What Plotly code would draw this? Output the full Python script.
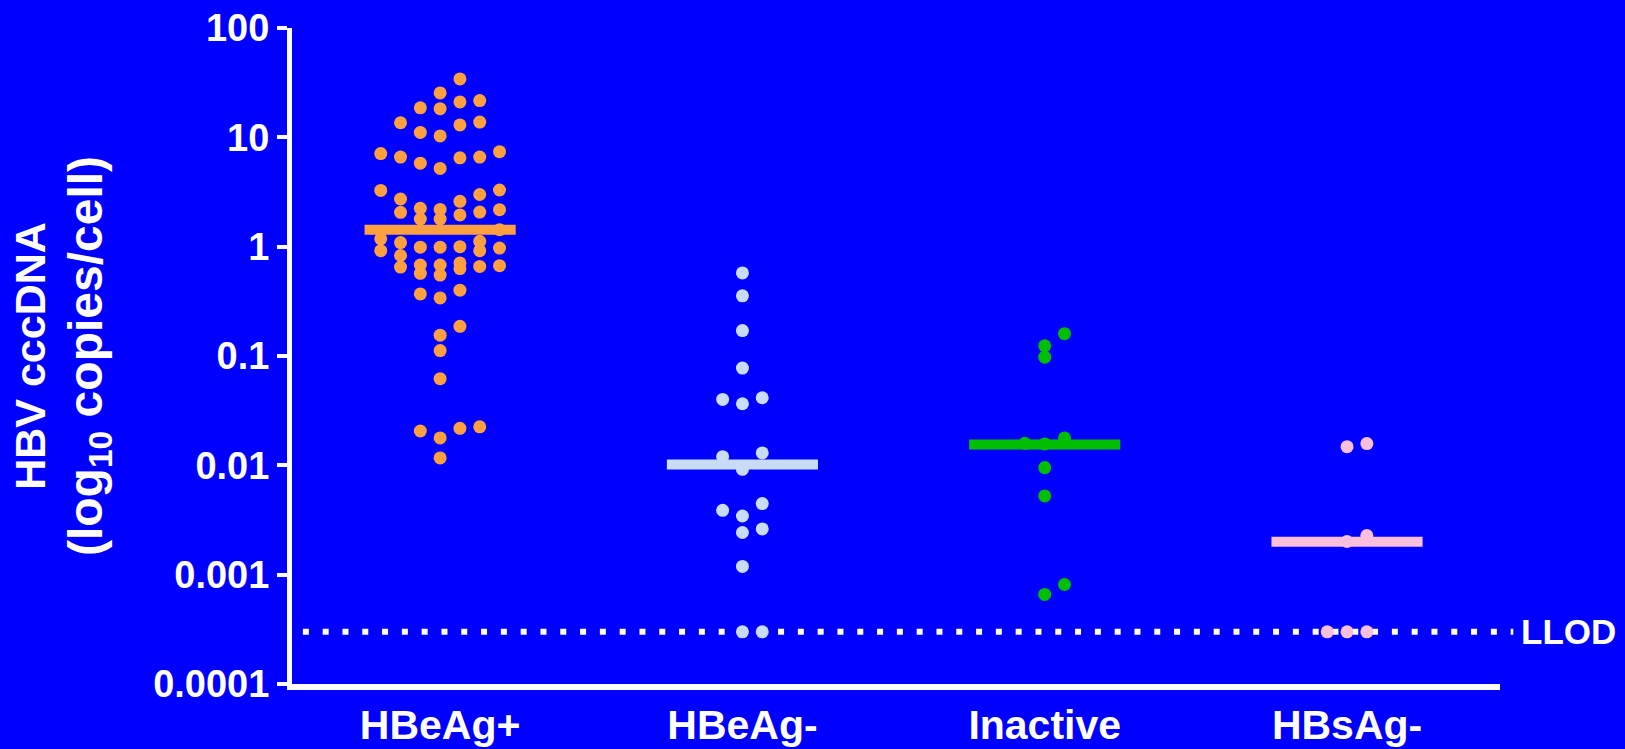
import numpy as np
import plotly.graph_objects as go

# ---- data: HBV cccDNA per cell, by patient group ----
groups = ["HBeAg+", "HBeAg-", "Inactive", "HBsAg-"]

hbeag_pos = [34.2, 25.5, 21.7, 21.1, 18.6, 18.3, 13.8, 13.6, 13.0, 11.1, 10.3,
             7.4, 7.1, 6.6, 6.6, 6.5, 5.8, 5.2,
             3.3, 3.27, 3.0, 2.73, 2.6, 2.24, 2.19, 2.18, 2.07, 2.06,
             1.95, 1.79, 1.79, 1.43,
             1.18, 1.12, 1.09, 1.0, 0.99, 0.99, 0.97, 0.92, 0.92,
             0.83, 0.71, 0.68, 0.68, 0.67, 0.66, 0.65, 0.63,
             0.57, 0.55, 0.40, 0.37, 0.34,
             0.187, 0.155, 0.112, 0.062,
             0.0225, 0.0218, 0.0206, 0.0178, 0.0117]
hbeag_neg = [0.575, 0.355, 0.171, 0.0775, 0.0415, 0.0401, 0.0366, 0.0130, 0.0120,
             0.0092, 0.00447, 0.00388, 0.00344, 0.00262, 0.00243, 0.00119,
             0.0003, 0.0003]
inactive = [0.160, 0.124, 0.0976, 0.0178, 0.0159, 0.0157, 0.00953, 0.00525,
            0.000813, 0.000659]
hbsag_neg = [0.0158, 0.0148, 0.00228, 0.00201, 0.0003, 0.0003, 0.0003]

group_values = [hbeag_pos, hbeag_neg, inactive, hbsag_neg]
medians = [1.43, 0.0102, 0.0155, 0.00200]
llod = 0.0003

tick_vals = [1e-4, 1e-3, 1e-2, 1e-1, 1, 10, 100]
tick_text = ["0.0001", "0.001", "0.01", "0.1", "1", "10", "100"]

colors = ["#FFA040", "#C8DCF8", "#00BF00", "#FBBEDC"]

# ---- layout geometry ----
W, H = 1625, 749
ML, MR, MT, MB = 292, 125, 28, 65
X_RANGE = [-0.49, 3.506]
Y_RANGE = [-4, 2]
plot_w = W - ML - MR
plot_h = H - MT - MB
px_per_x = plot_w / (X_RANGE[1] - X_RANGE[0])
px_per_decade = plot_h / (Y_RANGE[1] - Y_RANGE[0])

MARKER = 13
SLOT_PX = 19.8
BIN_PX = 20
MAX_ROW = 7


def swarm_slots(values):
    """Column-scatter layout: points within a row band spread sideways,
    highest values on the outside, lowest at the centre."""
    vals = np.asarray(values, dtype=float)
    order = np.argsort(-vals, kind="stable")
    ypx = -np.log10(vals) * px_per_decade
    rows, cur = [], []
    for idx in order:
        if cur and (ypx[idx] - ypx[cur[0]] > BIN_PX or len(cur) >= MAX_ROW):
            rows.append(cur)
            cur = []
        cur.append(idx)
    rows.append(cur)
    slots = np.zeros(len(vals))
    for row in rows:
        n = len(row)
        lo = -((n - 1) // 2)
        cand = sorted(range(lo, lo + n), key=lambda s: (-abs(s), -s))
        for idx, s in zip(row, cand):
            slots[idx] = s
    return slots


fig = go.Figure()

for i, (vals, col) in enumerate(zip(group_values, colors)):
    slots = swarm_slots(vals)
    xs = i + slots * SLOT_PX / px_per_x
    fig.add_trace(go.Scatter(
        x=xs, y=vals, mode="markers",
        marker=dict(size=MARKER, color=col, line=dict(width=0)),
        cliponaxis=False, showlegend=False, hoverinfo="y",
    ))

# median bars on top of the points
for i, (m, col) in enumerate(zip(medians, colors)):
    fig.add_trace(go.Scatter(
        x=[i - 0.25, i + 0.25], y=[m, m], mode="lines",
        line=dict(color=col, width=10), showlegend=False, hoverinfo="y",
    ))

# lower limit of detection
fig.add_shape(type="line", xref="paper", yref="y",
              x0=0.009, x1=1.011, y0=llod, y1=llod,
              line=dict(color="white", width=6, dash="6px,13.8px"),
              layer="below")
fig.add_annotation(text="LLOD", xref="paper", yref="y",
                   x=1.016, y=np.log10(llod), xanchor="left", yanchor="middle",
                   showarrow=False,
                   font=dict(family="Liberation Sans", size=35, color="white",
                             weight="bold"))

y_title = ('<span style="font-size:43px">HBV cccDNA</span><br>'
           '<span style="font-size:48px">(log<sub>10</sub> copies/cell)</span>')

fig.update_layout(
    width=W, height=H,
    margin=dict(l=ML, r=MR, t=MT, b=MB, autoexpand=False),
    paper_bgcolor="#0000FF", plot_bgcolor="#0000FF",
    font=dict(family="Liberation Sans", color="white"),
    xaxis=dict(
        range=X_RANGE, tickvals=list(range(len(groups))), ticktext=groups,
        showgrid=False, zeroline=False, showline=True, linecolor="white",
        linewidth=6, ticks="", ticklabelstandoff=0,
        tickfont=dict(family="Liberation Sans", size=41, color="white",
                      weight="bold"),
    ),
    yaxis=dict(
        type="log", range=Y_RANGE, tickvals=tick_vals, ticktext=tick_text,
        showgrid=False, zeroline=False, showline=True, linecolor="white",
        linewidth=5, ticks="outside", ticklen=10, tickwidth=4,
        tickcolor="white", ticklabelstandoff=0,
        tickfont=dict(family="Liberation Sans", size=38, color="white",
                      weight="bold"),
        title=dict(
            text=y_title,
            standoff=38,
            font=dict(family="Liberation Sans", size=44, color="white",
                      weight="bold"),
        ),
    ),
)

fig.write_html("out.html")
